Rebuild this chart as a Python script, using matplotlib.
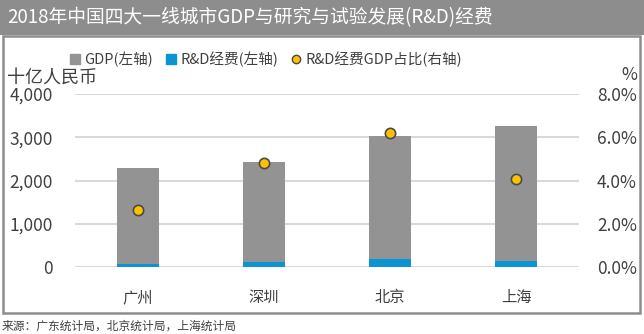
import matplotlib.pyplot as plt
import matplotlib.patches as mpatches
from matplotlib.lines import Line2D
from matplotlib.ticker import FuncFormatter

plt.rcParams['font.family'] = ['Noto Sans CJK SC', 'DejaVu Sans']

cities = ["广州", "深圳", "北京", "上海"]
gdp = [2286, 2422, 3032, 3268]          # 十亿人民币
rnd = [60, 116, 187, 136]               # 十亿人民币
rnd_share = [2.65, 4.80, 6.20, 4.05]    # %

W, H = 644, 334
TXT = "#404040"
GRAY = "#939393"
BLUE = "#0a94d3"
GOLD = "#ffc000"

fig = plt.figure(figsize=(W / 100, H / 100), dpi=100)

# title bar
fig.patches.append(mpatches.Rectangle((0, 1 - 35 / H), 1, 35 / H, transform=fig.transFigure,
                                      facecolor="#8d8d8d", edgecolor="none", zorder=0))
fig.text(7 / W, 1 - 18 / H, "2018年中国四大一线城市GDP与研究与试验发展(R&D)经费",
         color="white", fontsize=13.5, va="center", ha="left")

# border frame
fig.patches.append(mpatches.Rectangle((3 / W, 1 - 313 / H), 637 / W, 277 / H, transform=fig.transFigure,
                                      facecolor="none", edgecolor="#8d8d8d", lw=1.8, zorder=0))

ax = fig.add_axes([75 / W, 1 - 267 / H, 504 / W, 173 / H])
x = range(len(cities))
ax.bar(x, gdp, width=0.33, color=GRAY, zorder=2)
ax.bar(x, rnd, width=0.33, color=BLUE, zorder=3)
ax.set_xlim(-0.5, 3.5)
ax.set_ylim(0, 4000)
ax.set_yticks([0, 1000, 2000, 3000, 4000])
ax.yaxis.set_major_formatter(FuncFormatter(lambda v, p: f"{v:,.0f}"))
ax.set_xticks(list(x))
ax.set_xticklabels(cities)
ax.grid(axis="y", color="#d9d9d9", lw=1.5, zorder=0)
ax.set_axisbelow(True)
for s in ax.spines.values():
    s.set_visible(False)
ax.tick_params(axis="y", length=0, pad=16, labelsize=12.5, labelcolor=TXT)
ax.tick_params(axis="x", length=0, pad=16, labelsize=11, labelcolor=TXT)

ax2 = ax.twinx()
ax2.scatter(list(x), rnd_share, s=55, color=GOLD, edgecolor="#4a4a4a", lw=1.2, zorder=5)
ax2.set_ylim(0, 8)
ax2.set_yticks([0, 2, 4, 6, 8])
ax2.yaxis.set_major_formatter(FuncFormatter(lambda v, p: f"{v:.1f}%"))
for s in ax2.spines.values():
    s.set_visible(False)
ax2.tick_params(axis="y", length=0, pad=13, labelsize=12.5, labelcolor=TXT)

fig.text(7 / W, 1 - 78 / H, "十亿人民币", color=TXT, fontsize=13, va="center", ha="left")
fig.text(637 / W, 1 - 75 / H, "%", color=TXT, fontsize=12.5, va="center", ha="right")

handles = [
    Line2D([], [], marker="s", ls="none", color=GRAY, markersize=7),
    Line2D([], [], marker="s", ls="none", color=BLUE, markersize=7),
    Line2D([], [], marker="o", ls="none", markerfacecolor=GOLD, markeredgecolor="#4a4a4a", markersize=6),
]
fig.legend(handles, ["GDP(左轴)", "R&D经费(左轴)", "R&D经费GDP占比(右轴)"], loc="center",
           bbox_to_anchor=(264 / W, 1 - 59 / H), ncol=3, frameon=False, fontsize=10.5,
           handletextpad=0.05, columnspacing=0.6, handlelength=1.2, labelcolor=TXT)

fig.text(2 / W, 1 - 326 / H, "来源：广东统计局，北京统计局，上海统计局", color=TXT, fontsize=8.5,
         va="center", ha="left")

fig.savefig("out.png", dpi=100)
